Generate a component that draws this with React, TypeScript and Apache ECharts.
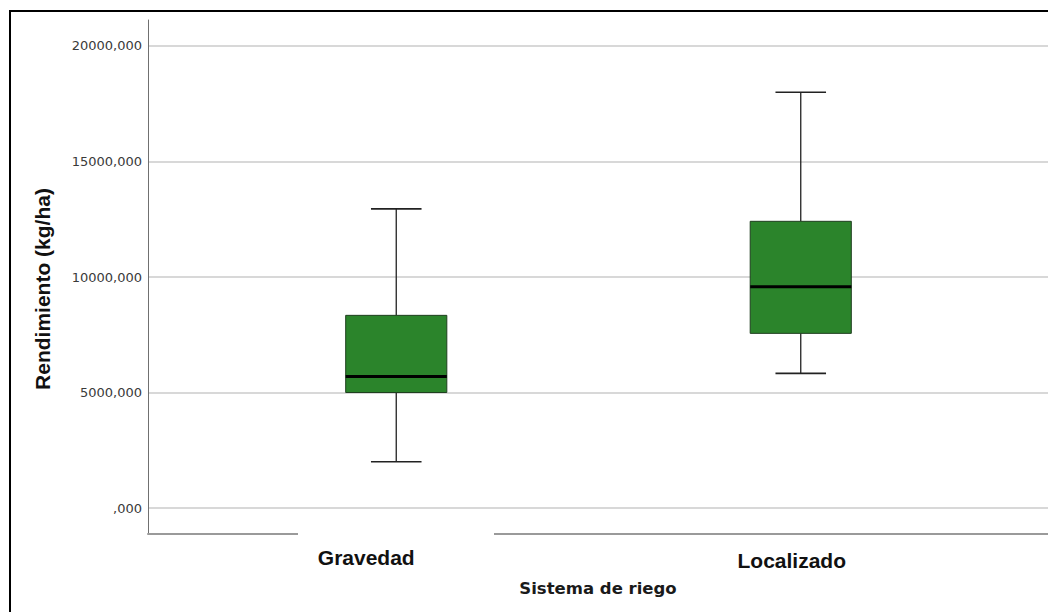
import React, { useEffect, useRef } from "react";
import * as echarts from "echarts";

// Irrigation systems and yield distribution (kg/ha)
const categories = ["Gravedad", "Localizado"];
const whiskerLow = [2000, 5830];
const quartile1 = [5000, 7560];
const medians = [5690, 9580];
const quartile3 = [8340, 12410];
const whiskerHigh = [12950, 18000];

// Value range of the plotting area
const yMin = -1125;
const yMax = 21125;

const BOX_FILL = "#2b842b";

export default function App() {
  const ref = useRef<HTMLDivElement>(null);

  useEffect(() => {
    if (!ref.current) return;
    const chart = echarts.init(ref.current, undefined, { renderer: "svg" });

    const boxData = categories.map((_, i) => [
      i,
      whiskerLow[i],
      quartile1[i],
      medians[i],
      quartile3[i],
      whiskerHigh[i],
    ]);

    const renderBox = (params: any, api: any) => {
      const idx = api.value(0);
      const pLow = api.coord([idx, api.value(1)]);
      const pQ1 = api.coord([idx, api.value(2)]);
      const pMed = api.coord([idx, api.value(3)]);
      const pQ3 = api.coord([idx, api.value(4)]);
      const pHigh = api.coord([idx, api.value(5)]);
      const band = api.size([1, 0])[0];
      const boxW = band * 0.25;
      const capW = boxW / 2;
      const cx = pMed[0];
      const lineStyle = { stroke: "#222", lineWidth: 1.3 };
      return {
        type: "group",
        children: [
          { type: "line", shape: { x1: cx, y1: pQ3[1], x2: cx, y2: pHigh[1] }, style: lineStyle },
          { type: "line", shape: { x1: cx, y1: pLow[1], x2: cx, y2: pQ1[1] }, style: lineStyle },
          { type: "line", shape: { x1: cx - capW / 2, y1: pHigh[1], x2: cx + capW / 2, y2: pHigh[1] }, style: { stroke: "#222", lineWidth: 1.6 } },
          { type: "line", shape: { x1: cx - capW / 2, y1: pLow[1], x2: cx + capW / 2, y2: pLow[1] }, style: { stroke: "#222", lineWidth: 1.6 } },
          {
            type: "rect",
            shape: { x: cx - boxW / 2, y: pQ3[1], width: boxW, height: pQ1[1] - pQ3[1] },
            style: { fill: BOX_FILL, stroke: "#1f3f1f", lineWidth: 1 },
          },
          { type: "line", shape: { x1: cx - boxW / 2, y1: pMed[1], x2: cx + boxW / 2, y2: pMed[1] }, style: { stroke: "#000", lineWidth: 3 } },
        ],
      };
    };

    chart.setOption({
      animation: false,
      backgroundColor: "#ffffff",
      grid: [
        { left: 148, right: 0, top: 20, bottom: 78 },
        { left: 194, right: 45, top: 20, bottom: 78 },
      ],
      xAxis: [
        {
          type: "value",
          gridIndex: 0,
          min: 0,
          max: 1,
          axisLine: { show: true, onZero: false, lineStyle: { color: "#9a9a9a", width: 2 } },
          axisTick: { show: false },
          axisLabel: { show: false },
          splitLine: { show: false },
          name: "Sistema de riego",
          nameLocation: "middle",
          nameGap: 46,
          nameTextStyle: {
            fontFamily: "DejaVu Sans",
            fontWeight: "bold",
            fontSize: 16.5,
            color: "#1a1a1a",
          },
        },
        {
          type: "category",
          gridIndex: 1,
          data: categories,
          axisLine: { show: false, onZero: false },
          axisTick: { show: false },
          axisLabel: {
            margin: 13,
            formatter: (v: string, i: number) => (i === 0 ? `{g|${v}}` : `{l|${v}}`),
            rich: {
              g: {
                fontFamily: "Liberation Sans",
                fontWeight: "bold",
                fontSize: 21,
                color: "#111",
                padding: [0, 60, 0, 0],
              },
              l: {
                fontFamily: "Liberation Sans",
                fontWeight: "bold",
                fontSize: 21,
                color: "#111",
                padding: [3, 18, 0, 0],
              },
            },
          },
          splitLine: { show: false },
        },
      ],
      yAxis: [
        {
          type: "value",
          gridIndex: 0,
          min: yMin,
          max: yMax,
          axisLine: { show: true, onZero: false, lineStyle: { color: "#707070", width: 1 } },
          axisTick: { show: false },
          axisLabel: {
            margin: 6,
            showMinLabel: false,
            showMaxLabel: false,
            fontFamily: "DejaVu Sans",
            fontSize: 13,
            color: "#3a3a3a",
            formatter: (v: number) => (v % 5000 !== 0 ? "" : v === 0 ? ",000" : `${v},000`),
          },
          splitLine: {
            show: true,
            showMinLine: false,
            showMaxLine: false,
            lineStyle: { color: "#cbcbcb", width: 1.5 },
          },
          name: "Rendimiento (kg/ha)",
          nameLocation: "middle",
          nameGap: 95,
          nameTextStyle: {
            fontFamily: "Liberation Sans",
            fontWeight: "bold",
            fontSize: 21,
            color: "#111",
            padding: [0, 24, 0, 0],
          },
        },
        {
          type: "value",
          gridIndex: 1,
          min: yMin,
          max: yMax,
          show: false,
          splitLine: { show: false },
        },
      ],
      series: [
        {
          type: "custom",
          xAxisIndex: 1,
          yAxisIndex: 1,
          data: boxData,
          encode: { x: 0, y: [1, 2, 3, 4, 5] },
          renderItem: renderBox,
          z: 10,
        },
      ],
      graphic: [
        {
          type: "rect",
          shape: { x: 298, y: 531, width: 196, height: 6 },
          style: { fill: "#ffffff" },
          z: 50,
          silent: true,
        },
        {
          type: "rect",
          shape: { x: 10, y: 11, width: 1100, height: 700 },
          style: { fill: "none", stroke: "#000", lineWidth: 2 },
          z: 100,
          silent: true,
        },
      ],
    });

    return () => chart.dispose();
  }, []);

  return (
    <div
      ref={ref}
      style={{ position: "absolute", left: 0, top: 0, width: 1048, height: 612, background: "#fff" }}
    />
  );
}
